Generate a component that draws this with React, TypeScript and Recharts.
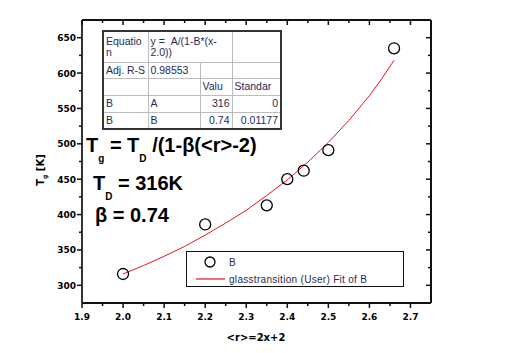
import { ScatterChart, Scatter, XAxis, YAxis } from "recharts";

// measured points: <r> vs Tg
const rValues = [2.0, 2.2, 2.35, 2.4, 2.44, 2.5, 2.66];
const tgValues = [316, 386, 413, 450, 462, 491, 635];

// fit curve
const fitR = [2.0, 2.05, 2.1, 2.15, 2.2, 2.25, 2.3, 2.35, 2.4, 2.45, 2.5, 2.55, 2.6, 2.63, 2.66];
const fitTg = [316, 328, 341, 355, 371, 388, 406, 427, 449, 474, 502, 533, 568, 592, 618];

const xTicks = [1.9, 1.95, 2.0, 2.05, 2.1, 2.15, 2.2, 2.25, 2.3, 2.35, 2.4, 2.45, 2.5, 2.55, 2.6, 2.65, 2.7];
const yTicks = [300, 325, 350, 375, 400, 425, 450, 475, 500, 525, 550, 575, 600, 625, 650];

const tableRows = [
  ["B", "A", "316", "0"],
  ["B", "B", "0.74", "0.01177"],
];

const points = rValues.map((x, i) => ({ x, y: tgValues[i] }));
const fit = fitR.map((x, i) => ({ x, y: fitTg[i] }));

const isMajorX = (v: number) => Math.round(v * 100) % 10 === 0;
const isMajorY = (v: number) => Math.round(v) % 50 === 0;

const tickFont = { fontFamily: "DejaVu Sans", fontWeight: 700, fontSize: 9, fill: "#000" };
const txtColor = "#1f2a55";

function BottomTick(props: any) {
  const { x, y, payload } = props;
  const major = isMajorX(payload.value);
  return (
    <g>
      <line x1={x} x2={x} y1={y} y2={y + (major ? 5 : 3)} stroke="#111" strokeWidth={1.5} />
      {major && (
        <text x={x} y={y + 17} textAnchor="middle" {...tickFont}>
          {payload.value.toFixed(1)}
        </text>
      )}
    </g>
  );
}

function TopTick(props: any) {
  const { x, y, payload } = props;
  const major = isMajorX(payload.value);
  return <line x1={x} x2={x} y1={y} y2={y + (major ? 5 : 3)} stroke="#111" strokeWidth={1.5} />;
}

function LeftTick(props: any) {
  const { x, y, payload } = props;
  const major = isMajorY(payload.value);
  return (
    <g>
      <line x1={x - (major ? 5 : 3)} x2={x} y1={y} y2={y} stroke="#111" strokeWidth={1.5} />
      {major && (
        <text x={x - 6} y={y + 3.5} textAnchor="end" {...tickFont}>
          {payload.value}
        </text>
      )}
    </g>
  );
}

function RightTick(props: any) {
  const { x, y, payload } = props;
  const major = isMajorY(payload.value);
  return <line x1={x - (major ? 5 : 3)} x2={x} y1={y} y2={y} stroke="#111" strokeWidth={1.5} />;
}

const Circle = (p: any) => <circle cx={p.cx} cy={p.cy} r={5.5} fill="none" stroke="#000" strokeWidth={1.3} />;
const NoShape = () => <g />;

const cellBase: any = {
  border: "1px solid #bdbdbd",
  padding: "0 2px",
  color: txtColor,
  fontSize: 10.5,
  lineHeight: "11px",
  verticalAlign: "middle",
  whiteSpace: "nowrap",
  overflow: "hidden",
};

export default function App() {
  return (
    <div style={{ position: "relative", width: 509, height: 345, fontFamily: "Arial, 'Liberation Sans', sans-serif" }}>
      <ScatterChart width={509} height={345} margin={{ top: 11, right: 85, bottom: 49, left: 73 }}>
        <XAxis
          type="number"
          dataKey="x"
          domain={[1.9, 2.75]}
          allowDataOverflow
          ticks={xTicks}
          interval={0}
          height={1}
          tickSize={0}
          tickMargin={0}
          tickLine={false}
          tick={<BottomTick />}
          axisLine={{ stroke: "#111", strokeWidth: 2 }}
        />
        <XAxis
          xAxisId="top"
          orientation="top"
          type="number"
          dataKey="x"
          domain={[1.9, 2.75]}
          allowDataOverflow
          ticks={xTicks}
          interval={0}
          height={1}
          tickSize={0}
          tickMargin={0}
          tickLine={false}
          tick={<TopTick />}
          axisLine={{ stroke: "#111", strokeWidth: 2 }}
        />
        <YAxis
          type="number"
          dataKey="y"
          domain={[275, 675]}
          allowDataOverflow
          ticks={yTicks}
          interval={0}
          width={1}
          tickSize={0}
          tickMargin={0}
          tickLine={false}
          tick={<LeftTick />}
          axisLine={{ stroke: "#333", strokeWidth: 2 }}
        />
        <YAxis
          yAxisId="right"
          orientation="right"
          type="number"
          dataKey="y"
          domain={[275, 675]}
          allowDataOverflow
          ticks={yTicks}
          interval={0}
          width={1}
          tickSize={0}
          tickMargin={0}
          tickLine={false}
          tick={<RightTick />}
          axisLine={{ stroke: "#111", strokeWidth: 2 }}
        />
        <Scatter
          name="glasstransition (User) Fit of B"
          data={fit}
          line={{ stroke: "#e8141c", strokeWidth: 1 }}
          lineType="joint"
          shape={NoShape}
          isAnimationActive={false}
        />
        <Scatter name="B" data={points} shape={Circle} isAnimationActive={false} />
      </ScatterChart>

      {/* formula text and axis titles */}
      <svg width={509} height={345} style={{ position: "absolute", left: 0, top: 0, pointerEvents: "none" }}>
        <g fontFamily="Arial, 'Liberation Sans'" fontWeight={700} fill="#000" fontSize={20}>
          <text x={78} y={144}>
            T<tspan fontSize={10} dy={10}>g</tspan>
            <tspan dy={-10}> = T</tspan>
            <tspan fontSize={10} dy={10}>D</tspan>
            <tspan dy={-10}> /(1-β(&lt;r&gt;-2)</tspan>
          </text>
          <text x={85} y={182}>
            T<tspan fontSize={10} dy={10}>D</tspan>
            <tspan dy={-10}> = 316K</tspan>
          </text>
          <text x={87} y={214}>β = 0.74</text>
        </g>
        <text x={36} y={162} transform="rotate(-90 36 162)" textAnchor="middle" fontFamily="DejaVu Sans" fontWeight={700} fontSize={10}>
          T<tspan fontSize={6} dy={3}>g</tspan>
          <tspan dy={-3}> [K]</tspan>
        </text>
        <text x={248} y={333} textAnchor="middle" fontFamily="DejaVu Sans" fontWeight={700} fontSize={10}>
          &lt;r&gt;=2x+2
        </text>
      </svg>

      {/* fit results table */}
      <table
        style={{
          position: "absolute",
          left: 94,
          top: 22,
          width: 178,
          height: 99,
          borderCollapse: "collapse",
          tableLayout: "fixed",
          border: "2px solid #333",
          background: "#fff",
          fontFamily: "Arial, 'Liberation Sans'",
        }}
      >
        <colgroup>
          <col style={{ width: 45 }} />
          <col style={{ width: 52 }} />
          <col style={{ width: 32 }} />
          <col style={{ width: 49 }} />
        </colgroup>
        <tbody>
          <tr style={{ height: 31 }}>
            <td style={cellBase}>Equatio<br />n</td>
            <td style={cellBase} colSpan={2}>y = &nbsp;A/(1-B*(x-<br />2.0))</td>
            <td style={cellBase}></td>
          </tr>
          <tr style={{ height: 16 }}>
            <td style={cellBase}>Adj. R-S</td>
            <td style={cellBase}>0.98553</td>
            <td style={cellBase}></td>
            <td style={cellBase}></td>
          </tr>
          <tr style={{ height: 17 }}>
            <td style={cellBase}></td>
            <td style={cellBase}></td>
            <td style={cellBase}>Valu</td>
            <td style={cellBase}>Standar</td>
          </tr>
          {tableRows.map((r, i) => (
            <tr key={i} style={{ height: 17 }}>
              <td style={cellBase}>{r[0]}</td>
              <td style={cellBase}>{r[1]}</td>
              <td style={{ ...cellBase, textAlign: "right" }}>{r[2]}</td>
              <td style={{ ...cellBase, textAlign: "right" }}>{r[3]}</td>
            </tr>
          ))}
        </tbody>
      </table>

      {/* legend */}
      <svg
        width={218}
        height={36}
        style={{ position: "absolute", left: 178, top: 243, background: "#fff", border: "1.5px solid #111", boxSizing: "border-box" }}
      >
        <circle cx={23} cy={10} r={5} fill="none" stroke="#000" strokeWidth={1.3} />
        <text x={42} y={14} fontSize={10} fill={txtColor} fontFamily="Arial, 'Liberation Sans'">B</text>
        <line x1={9} x2={38} y1={27} y2={27} stroke="#e8141c" strokeWidth={1.2} />
        <text x={42} y={31} fontSize={10} fill={txtColor} fontFamily="Arial, 'Liberation Sans'" letterSpacing={0.3}>
          glasstransition (User) Fit of B
        </text>
      </svg>
    </div>
  );
}
